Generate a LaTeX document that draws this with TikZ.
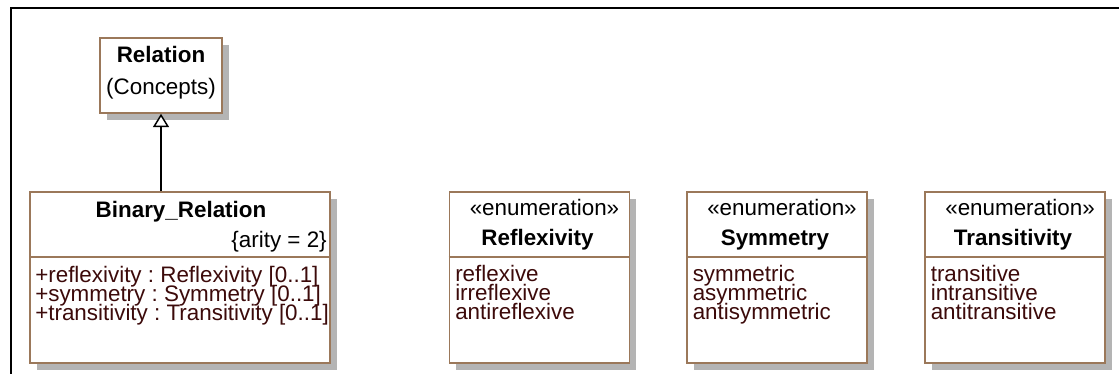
\documentclass[tikz,border=0pt]{standalone}
\usepackage{fontspec}
\setmainfont{Liberation Sans}
\usetikzlibrary{arrows.meta,shadows}
\definecolor{umlbrown}{RGB}{155,120,90}
\definecolor{umltext}{RGB}{60,10,10}
\definecolor{umlshadow}{RGB}{180,180,180}
\tikzstyle{classbox}=[draw=umlbrown,fill=white,line width=1.2pt,inner sep=0pt,
  drop shadow={shadow xshift=5pt,shadow yshift=-5pt,fill=umlshadow,opacity=1}]
\tikzstyle{divider}=[draw=umlbrown,line width=1.2pt]
\tikzstyle{txt}=[font=\fontsize{16.8pt}{15pt}\selectfont\frenchspacing,inner sep=0pt]
\tikzstyle{heading}=[txt,font=\fontsize{16.8pt}{15pt}\selectfont\bfseries]
\tikzstyle{entry}=[txt,text=umltext,anchor=base west,text height=11.5pt,text depth=1.5pt]
\tikzstyle{generalization}=[draw,line width=1.1pt,-{Triangle[open,length=10pt,width=12pt,fill=white]}]
\tikzstyle{frame}=[draw,line width=1.8pt]

\begin{document}
\begin{tikzpicture}[x=0.75pt,y=-0.75pt]
    \useasboundingbox (0,0) rectangle (1119,374);
    \draw[frame] (11,374) |- (1119,8);
    % superclass
    \node[classbox,minimum width=91.5pt,minimum height=56.25pt] (rel) at (161,75.5) {};
    \node[heading,anchor=base] (relname) at (161,63) {Relation};
    \node[txt,anchor=base] (relpkg) at (161,95) {(Concepts)};
    % binary relation class
    \node[classbox,minimum width=225pt,minimum height=128.25pt] (binrel) at (180,277.5) {};
    \draw[divider] (binrel.west |- 0,257) -- (binrel.east |- 0,257);
    \node[heading,anchor=base] (binname) at (181,217) {Binary\_Relation};
    \node[txt,anchor=base east] (arity) at (327,247) {\{arity = 2\}};
    \foreach \attr/\yy [count=\i] in {{+reflexivity : Reflexivity [0..1]}/282,
        {+symmetry : Symmetry [0..1]}/301, {+transitivity : Transitivity [0..1]}/320}
        \node[entry] (attr\i) at (35,\yy) {\attr};
    \draw[generalization] (rel.south |- binrel.north) -- (rel.south);
    % enumerations
    \foreach \name/\cx/\kind/\one/\two/\three in {
        refl/539.5/Reflexivity/reflexive/irreflexive/antireflexive,
        sym/777/Symmetry/symmetric/asymmetric/antisymmetric,
        trans/1015/Transitivity/transitive/intransitive/antitransitive}
    {
        \node[classbox,minimum width=135pt,minimum height=128.25pt] (\name) at (\cx,277.5) {};
        \draw[divider] (\name.west |- 0,257) -- (\name.east |- 0,257);
        \node[txt,anchor=base] (\name-st) at (\cx+5,215) {«enumeration»};
        \node[heading,anchor=base] (\name-nm) at (\cx-2,245) {\kind};
        \node[entry] (\name-a) at (\cx-84.5,281) {\one};
        \node[entry] (\name-b) at (\cx-84.5,300) {\two};
        \node[entry] (\name-c) at (\cx-84.5,319) {\three};
    }
\end{tikzpicture}
\end{document}
